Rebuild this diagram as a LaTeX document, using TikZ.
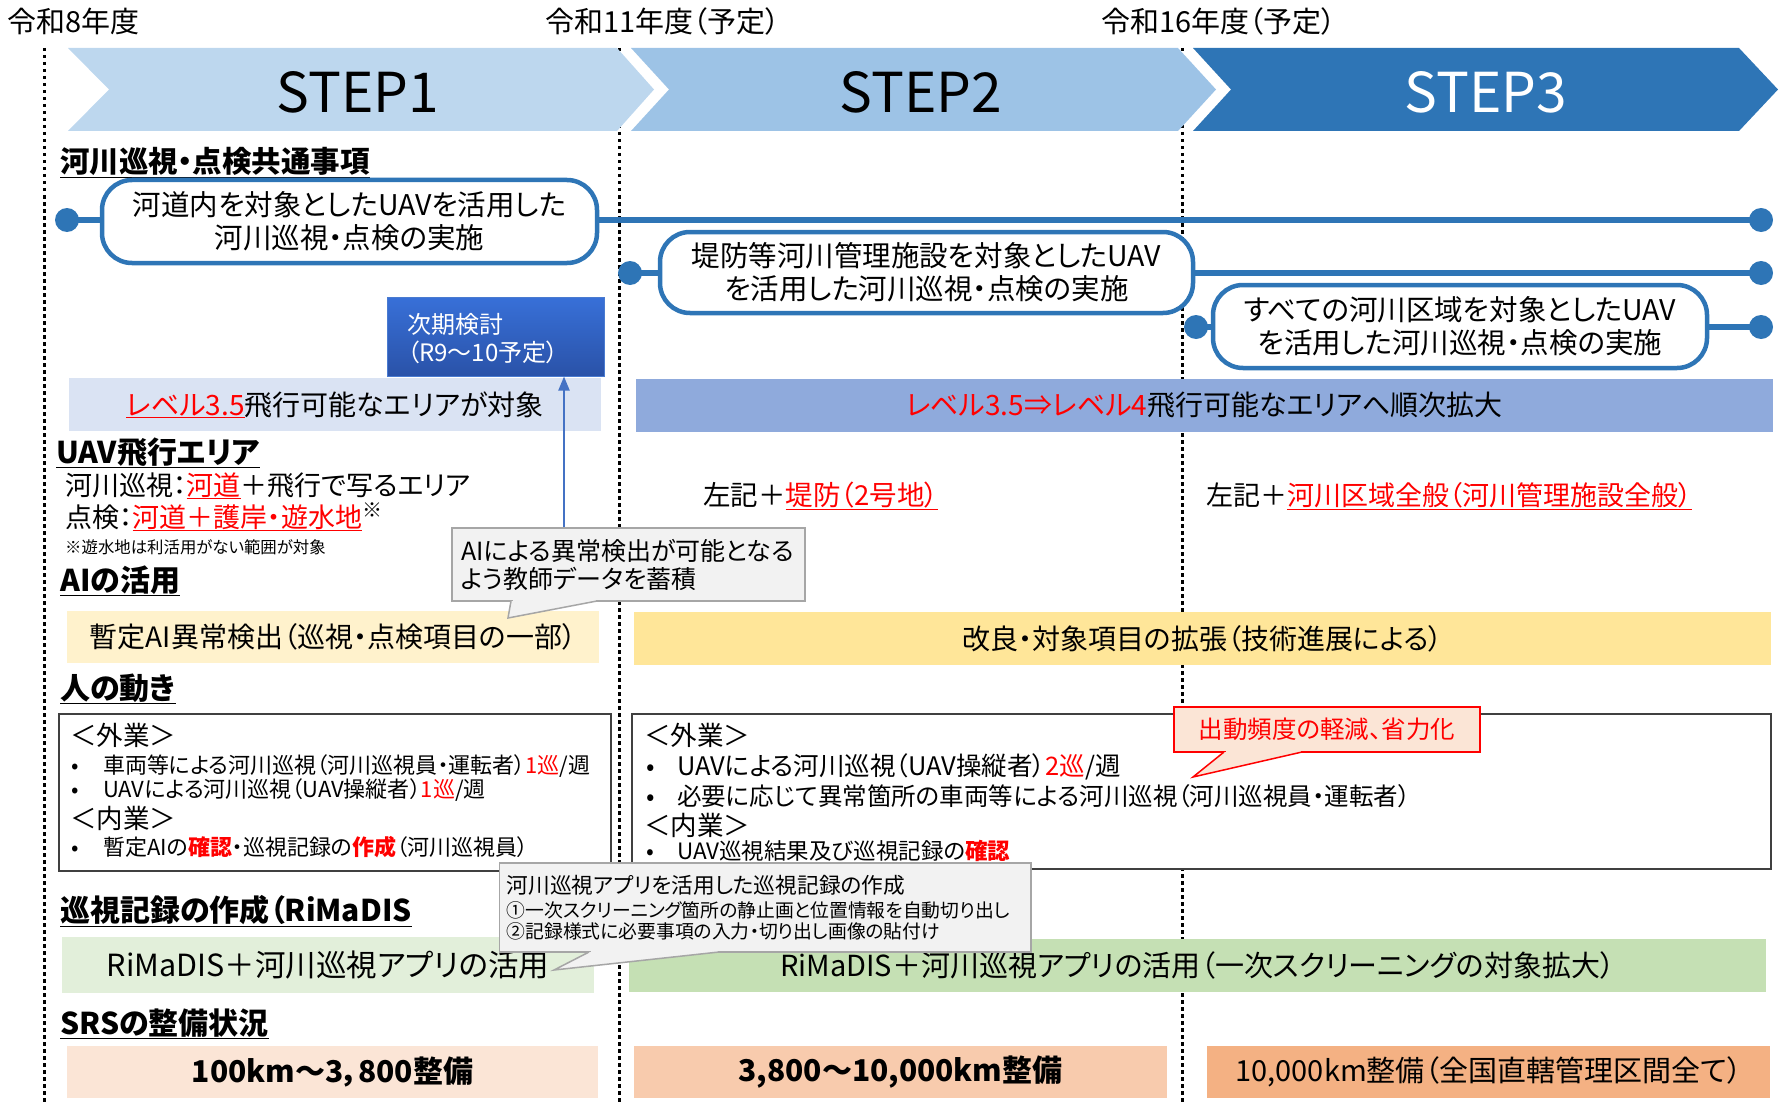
\documentclass[tikz,border=0pt]{standalone}
\usepackage{fontspec}
\setmainfont{Noto Sans CJK JP}[RawFeature=+palt]
\usetikzlibrary{arrows.meta}
\definecolor{s1}{HTML}{BDD7EE}
\definecolor{s2}{HTML}{9DC3E6}
\definecolor{s3}{HTML}{2E75B6}
\definecolor{tl}{HTML}{2E75B6}
\definecolor{lv1}{HTML}{DAE3F3}
\definecolor{lv2}{HTML}{8FAADC}
\definecolor{ai1}{HTML}{FFF2CC}
\definecolor{ai2}{HTML}{FFE699}
\definecolor{rm1}{HTML}{E2EFDA}
\definecolor{rm2}{HTML}{C5E0B4}
\definecolor{sr1}{HTML}{FBE5D6}
\definecolor{sr2}{HTML}{F8CBAD}
\definecolor{sr3}{HTML}{F4B183}
\definecolor{rd}{HTML}{FF0000}
\definecolor{callf}{HTML}{F2F2F2}
\definecolor{callb}{HTML}{A6A6A6}
\definecolor{pinkf}{HTML}{FBE5D6}
\definecolor{arrowc}{HTML}{4472C4}
\definecolor{pborder}{HTML}{404040}
\definecolor{nxt1}{HTML}{3870D8}
\definecolor{nxt2}{HTML}{2A52A8}
\definecolor{nxtb}{HTML}{4A7BD0}
\newcommand\fsz[2]{\fontsize{#1}{#2}\selectfont}
\newcommand\rul[1]{{\color{rd}\underline{#1}}}
\newcommand\rdt[1]{{\color{rd}#1}}
\newcommand\rdb[1]{{\color{rd}\bfseries #1}}
\begin{document}
\begin{tikzpicture}[x=1pt,y=-1pt,
  txt/.style={inner sep=0pt, anchor=base west},
  ctxt/.style={inner sep=0pt, anchor=base},
  dotline/.style={line width=3pt, dash pattern=on 3.5pt off 3.5pt},
  tline/.style={draw=tl, line width=6pt},
  tdot/.style={circle, fill=tl, minimum size=24pt, inner sep=0pt},
  rbox/.style={draw=tl, line width=4.5pt, rounded corners=30pt, fill=white, align=center, inner sep=0pt, font=\fsz{28.5}{33}},
  band/.style={inner sep=0pt, draw=none},
  head/.style={inner sep=0pt, anchor=base west, font=\bfseries\fsz{30}{30}},
  pbox/.style={draw=pborder, line width=2pt, fill=white, inner sep=0pt},
  callbody/.style={fill=callf, draw=callb, line width=1.5pt, inner sep=0pt},
]
\useasboundingbox (0,0) rectangle (1779,1102);

% dotted year lines
\coordinate (v1t) at (44,48);   \coordinate (v1b) at (44,1102);
\coordinate (v2t) at (619,48);  \coordinate (v2b) at (619,1102);
\coordinate (v3t) at (1182.5,48); \coordinate (v3b) at (1182.5,1102);
\draw[dotline] (v1t) -- (v1b);
\draw[dotline] (v2t) -- (v2b);
\draw[dotline] (v3t) -- (v3b);

% year labels
\node[txt, font=\fsz{29}{29}] (y8) at (7,33) {令和8年度};
\node[txt, font=\fsz{29}{29}] (y11) at (545,33) {令和11年度（予定）};
\node[txt, font=\fsz{29}{29}] (y16) at (1101,33) {令和16年度（予定）};

% chevrons
\fill[s1] (68,48) -- (617,48) -- (654,89.5) -- (617,131) -- (68,131) -- (109,89.5) -- cycle;
\fill[s2] (631,48) -- (1178,48) -- (1216,89.5) -- (1178,131) -- (631,131) -- (669,89.5) -- cycle;
\fill[s3] (1193,48) -- (1739,48) -- (1778,89.5) -- (1739,131) -- (1193,131) -- (1231,89.5) -- cycle;
\node[ctxt, font=\fsz{55}{55}] (st1) at (358,113) {STEP1};
\node[ctxt, font=\fsz{55}{55}] (st2) at (921,113) {STEP2};
\node[ctxt, font=\fsz{55}{55}, text=white] (st3) at (1486,113) {STEP3};

% headings
\node[head, font=\bfseries\fsz{29.5}{29.5}] (h1) at (60,173) {\underline{河川巡視・点検共通事項}};
\node[head] (h2) at (56,463) {\underline{UAV飛行エリア}};
\node[head] (h3) at (60,591) {\underline{AIの活用}};
\node[head] (h4) at (60,699) {\underline{人の動き}};
\node[head] (h5) at (60,921) {\underline{巡視記録の作成（RiMaDIS}};
\node[head] (h6) at (60,1034) {\underline{SRSの整備状況}};

% timelines
\node[tdot] (d1l) at (67,220) {};
\node[tdot] (d1r) at (1761,220) {};
\node[tdot] (d2l) at (630,273) {};
\node[tdot] (d2r) at (1761,273) {};
\node[tdot] (d3l) at (1196,327) {};
\node[tdot] (d3r) at (1761,327) {};
\draw[tline] (d1l.center) -- (d1r.center);
\draw[tline] (d2l.center) -- (d2r.center);
\draw[tline] (d3l.center) -- (d3r.center);
\node[rbox, minimum width=495, minimum height=83] (b1) at (349.5,221.5) {河道内を対象としたUAVを活用した\\河川巡視・点検の実施};
\node[rbox, minimum width=533, minimum height=81] (b2) at (926.5,272.5) {堤防等河川管理施設を対象としたUAV\\を活用した河川巡視・点検の実施};
\node[rbox, minimum width=494, minimum height=83] (b3) at (1460,326.5) {すべての河川区域を対象としたUAV\\を活用した河川巡視・点検の実施};

% next study box
\node[inner sep=0pt, minimum width=216.5, minimum height=79, top color=nxt1, bottom color=nxt2, draw=nxtb, line width=1pt] (next) at (495.75,336.5) {};
\node[inner sep=0pt, anchor=west, align=left, font=\fsz{24}{28}, text=white] (nextt) at (407,339) {次期検討\\（R9～10予定）};

% level bands
\node[band, fill=lv1, minimum width=532, minimum height=53, font=\fsz{28}{28}] (lvA) at (335,404.5) {\rul{レベル3.5}飛行可能なエリアが対象};
\node[band, fill=lv2, minimum width=1137, minimum height=53, font=\fsz{28}{28}] (lvB) at (1204.5,405) {\rdt{レベル3.5⇒レベル4}飛行可能なエリアへ順次拡大};

% UAV area texts
\node[txt, font=\fsz{27}{27}] (ua1) at (65,495) {河川巡視：\rul{河道}＋飛行で写るエリア};
\node[txt, font=\fsz{27}{27}] (ua2) at (65,527) {点検：\rul{河道＋護岸・遊水地}\raisebox{0.35em}{\fsz{20}{20}※}};
\node[txt, font=\fsz{16.4}{16.4}] (ua3) at (65,553) {※遊水地は利活用がない範囲が対象};
\node[txt, font=\fsz{27.5}{27.5}] (ub) at (703,505) {左記＋\rul{堤防（2号地）}};
\node[txt, font=\fsz{27}{27}] (uc) at (1206,505) {左記＋\rul{河川区域全般（河川管理施設全般）}};

% AI bands
\node[band, fill=ai1, minimum width=532, minimum height=52, font=\fsz{28}{28}] (aiA) at (333,637) {\raisebox{-2pt}{暫定AI異常検出（巡視・点検項目の一部）}};
\node[band, fill=ai2, minimum width=1137, minimum height=53, font=\fsz{28}{28}] (aiB) at (1202.5,638.5) {\raisebox{-2pt}{改良・対象項目の拡張（技術進展による）}};

% AI callout
\node[callbody, minimum width=353, minimum height=73, text width=335pt, inner xsep=9pt, align=left, font=\fsz{25}{28}] (aicall) at (628.5,564.5) {AIによる異常検出が可能となる\\よう教師データを蓄積};
\fill[callf] (597,601) -- (508,618) -- (511,601) -- cycle;
\draw[callf, line width=2.5pt] (512.5,601) -- (595.5,601);
\draw[callb, line width=1.5pt] (597,601) -- (508,618) -- (511,601);
\coordinate (ax) at (564,0);
\draw[arrowc, line width=2pt, -{Triangle[length=14pt,width=11pt]}] (aicall.north -| ax) -- (next.south -| ax);

% people boxes
\node[pbox, minimum width=552.5, minimum height=157] (pA) at (334.75,792.5) {};
\node[pbox, minimum width=1139.5, minimum height=155] (pB) at (1201.25,791.5) {};
\node[txt, font=\fsz{26.5}{26.5}] (pA1) at (70,745) {＜外業＞};
\node[txt, font=\fsz{22}{22}] (pA2b) at (71,773) {•};
\node[txt, font=\fsz{22}{22}] (pA2) at (103,773) {車両等による河川巡視（河川巡視員・運転者）\rdt{1巡}/週};
\node[txt, font=\fsz{22}{22}] (pA3b) at (71,797) {•};
\node[txt, font=\fsz{22}{22}] (pA3) at (103,797) {UAVによる河川巡視（UAV操縦者）\rdt{1巡}/週};
\node[txt, font=\fsz{26.5}{26.5}] (pA4) at (70,828) {＜内業＞};
\node[txt, font=\fsz{22}{22}] (pA5b) at (71,855) {•};
\node[txt, font=\fsz{22}{22}] (pA5) at (103,855) {暫定AIの\rdb{確認}・巡視記録の\rdb{作成}（河川巡視員）};

\node[txt, font=\fsz{26.5}{26.5}] (pB1) at (644,745) {＜外業＞};
\node[txt, font=\fsz{25}{25}] (pB2b) at (646,775) {•};
\node[txt, font=\fsz{25.5}{25.5}] (pB2) at (677,775) {UAVによる河川巡視（UAV操縦者）\rdt{2巡}/週};
\node[txt, font=\fsz{25}{25}] (pB3b) at (646,805) {•};
\node[txt, font=\fsz{24.5}{24.5}] (pB3) at (677,805) {必要に応じて異常箇所の車両等による河川巡視（河川巡視員・運転者）};
\node[txt, font=\fsz{26.5}{26.5}] (pB4) at (644,835) {＜内業＞};
\node[txt, font=\fsz{23}{23}] (pB5b) at (646,859) {•};
\node[txt, font=\fsz{22.5}{22.5}] (pB5) at (677,859) {UAV巡視結果及び巡視記録の\rdb{確認}};

% RiMaDIS bands
\node[band, fill=rm1, minimum width=532, minimum height=56, font=\fsz{30.5}{30.5}] (rmA) at (328,965) {\raisebox{-2pt}{RiMaDIS＋河川巡視アプリの活用}};
\node[band, fill=rm2, minimum width=1137, minimum height=53, font=\fsz{29}{29}] (rmB) at (1197.5,965.5) {\raisebox{-2pt}{RiMaDIS＋河川巡視アプリの活用（一次スクリーニングの対象拡大）}};

% SRS bands
\node[band, fill=sr1, minimum width=531, minimum height=52, font=\bfseries\fsz{30}{30}] (srA) at (332.5,1072) {\raisebox{-4pt}{100km～3，800整備}};
\node[band, fill=sr2, minimum width=533, minimum height=52, font=\bfseries\fsz{30}{30}] (srB) at (900.5,1072) {\raisebox{-4pt}{3,800～10,000km整備}};
\node[band, fill=sr3, minimum width=563, minimum height=52, font=\fsz{29}{29}] (srC) at (1488.5,1072) {\raisebox{-3pt}{10,000km整備（全国直轄管理区間全て）}};

% red callout
\node[inner sep=0pt, fill=pinkf, draw=rd, line width=1.5pt, minimum width=306, minimum height=45, font=\fsz{24.5}{24.5}, text=rd] (rc) at (1327,729.5) {出動頻度の軽減、省力化};
\fill[pinkf] (1302,752) -- (1193,777) -- (1224,752) -- cycle;
\draw[pinkf, line width=2.5pt] (1225.5,752) -- (1300.5,752);
\draw[rd, line width=1.5pt] (1302,752) -- (1193,777) -- (1224,752);

% RiMaDIS callout
\node[callbody, minimum width=531.5, minimum height=89] (rmc) at (765.25,907.5) {};
\fill[callf] (719,952) -- (554,970) -- (589,952) -- cycle;
\draw[callf, line width=2.5pt] (590.5,952) -- (717.5,952);
\draw[callb, line width=1.5pt] (719,952) -- (554,970) -- (589,952);
\node[txt, font=\fsz{21.7}{21.7}] (rmc1) at (506.5,893) {河川巡視アプリを活用した巡視記録の作成};
\node[txt, font=\fsz{18.8}{18.8}] (rmc2) at (506.5,917) {①一次スクリーニング箇所の静止画と位置情報を自動切り出し};
\node[txt, font=\fsz{18.8}{18.8}] (rmc3) at (506.5,938) {②記録様式に必要事項の入力・切り出し画像の貼付け};
\end{tikzpicture}
\end{document}
